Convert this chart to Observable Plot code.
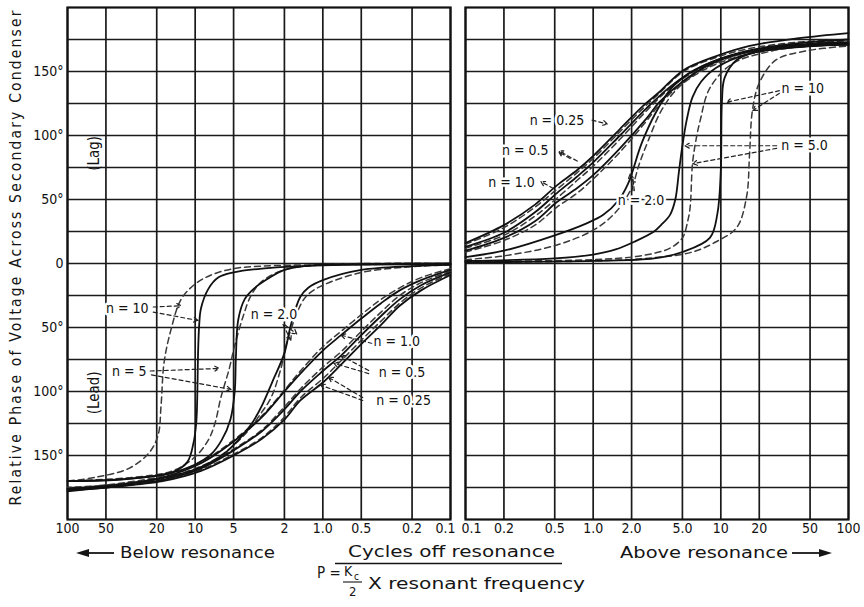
<!DOCTYPE html>
<html><head><meta charset="utf-8">
<script src="https://cdn.jsdelivr.net/npm/d3@7"></script>
<script src="https://cdn.jsdelivr.net/npm/@observablehq/plot@0.6"></script>
<style>
body{margin:0;background:#fff}
#wrap{position:relative;width:864px;height:607px;overflow:hidden;background:#fff}
#left,#right,#cap{position:absolute;top:0}
#left{left:0}#right{left:460px}#cap{left:0;pointer-events:none}
</style></head>
<body><div id="wrap"><div id="left"></div><div id="right"></div>
<svg id="cap" width="864" height="607" font-family="'DejaVu Sans Condensed','DejaVu Sans',sans-serif" fill="#151515">
<text transform="translate(21,258) rotate(-90)" text-anchor="middle" font-size="15.5" textLength="495" lengthAdjust="spacing">Relative Phase of Voltage Across Secondary Condenser</text>
<line x1="84" x2="114" y1="553" y2="553" stroke="#151515" stroke-width="1.8"/>
<polygon points="76,553 89,549 89,557"/>
<text x="120" y="558" font-size="15" textLength="155" lengthAdjust="spacingAndGlyphs">Below resonance</text>
<text x="348" y="557" font-size="15" textLength="207" lengthAdjust="spacingAndGlyphs">Cycles off resonance</text>
<line x1="335" x2="562" y1="563.5" y2="563.5" stroke="#151515" stroke-width="1.3"/>
<text x="317" y="578" font-size="15">P =</text>
<text x="344" y="576" font-size="14">K</text><text x="354" y="580" font-size="10">c</text>
<line x1="343" x2="362" y1="582" y2="582" stroke="#151515" stroke-width="1.1"/>
<text x="349" y="596" font-size="13">2</text>
<text x="368" y="589" font-size="15" textLength="217" lengthAdjust="spacingAndGlyphs">X resonant frequency</text>
<text x="620" y="558" font-size="15" textLength="168" lengthAdjust="spacingAndGlyphs">Above resonance</text>
<line x1="792" x2="822" y1="553" y2="553" stroke="#151515" stroke-width="1.8"/>
<polygon points="832,553 819,549 819,557"/>
</svg>
</div>
<script>
// ---- axis values ----
const pTicksBelow = [100, 50, 20, 10, 5, 2, 1, 0.5, 0.2, 0.1];
const pLabelsBelow = ["100", "50", "20", "10", "5", "2", "1.0", "0.5", "0.2", "0.1"];
const pTicksAbove = [0.1, 0.2, 0.5, 1, 2, 5, 10, 20, 50, 100];
const pLabelsAbove = ["0.1", "0.2", "0.5", "1.0", "2.0", "5.0", "10", "20", "50", "100"];
const phaseTicks = [150, 100, 50, 0, -50, -100, -150];
const phaseLabels = ["150°", "100°", "50°", "0", "50°", "100°", "150°"];
const phaseGrid = [-175, -150, -125, -100, -75, -50, -25, 0, 25, 50, 75, 100, 125, 150, 175];

// ---- below resonance (p, phase in degrees; lead negative) ----
const belowN025Solid = [[0.1,-9],[0.17,-21],[0.25,-33],[0.35,-48],[0.5,-63],[0.72,-79],[1,-93],[1.5,-107],[2,-122],[3,-137],[5,-150],[9,-162],[18,-170],[50,-175],[100,-178]];
const belowN025Dashed = [[0.1,-8],[0.17,-19],[0.25,-31],[0.35,-45],[0.5,-60],[0.72,-76],[1,-90],[1.5,-105],[2,-120],[3,-136],[5,-149],[9,-161],[18,-169],[50,-175],[100,-177]];
const belowN05Solid = [[0.1,-7],[0.17,-17],[0.25,-28],[0.35,-41],[0.5,-56],[0.72,-72],[1,-84],[1.5,-100],[2,-114],[3,-131],[5,-146],[9,-160],[18,-169],[50,-175],[100,-177]];
const belowN05Dashed = [[0.1,-6],[0.17,-15],[0.25,-25],[0.35,-38],[0.5,-53],[0.72,-69],[1,-81],[1.5,-98],[2,-112],[3,-130],[5,-145],[9,-159],[18,-168],[50,-174],[100,-177]];
const belowN1Solid = [[0.1,-5],[0.17,-13],[0.25,-21],[0.35,-31],[0.5,-43],[0.72,-56],[1,-68],[1.5,-86],[2,-100],[3,-120],[5,-139],[9,-156],[18,-167],[50,-174],[100,-176]];
const belowN1Dashed = [[0.1,-4],[0.17,-11],[0.25,-19],[0.35,-28],[0.5,-40],[0.72,-53],[1,-65],[1.5,-84],[2,-99],[3,-119],[5,-138],[9,-155],[18,-166],[50,-173],[100,-176]];
const belowN2Solid = [[0.1,-1],[0.2,-2],[0.5,-5],[1,-13],[1.3,-19],[1.5,-26],[1.78,-48],[2,-70],[2.5,-93],[3,-111],[3.6,-125],[4.5,-137],[6,-149],[9,-159],[15,-166],[40,-173],[100,-176]];
const belowN2Dashed = [[0.1,-1],[0.2,-2.5],[0.5,-7],[1,-17],[1.3,-24],[1.47,-31],[1.88,-59],[2.13,-82],[2.55,-105],[3.05,-117],[3.8,-130],[5,-142],[7,-153],[12,-163],[30,-171],[100,-175]];
const belowN5Solid = [[0.1,0],[0.5,-0.5],[1.24,-1.5],[2,-5],[2.7,-12],[3.5,-20],[4.1,-28],[4.6,-44],[4.8,-74],[4.9,-100],[5.3,-122],[6.2,-138],[7.5,-149],[10,-157],[16,-164],[40,-169],[100,-170]];
const belowN5Dashed = [[0.1,0],[1,-1],[2,-5],[3,-14],[3.65,-25],[4.2,-41],[4.9,-64],[5.4,-82],[6.3,-105],[7,-125],[7.9,-138],[10,-151],[15,-162],[30,-167],[100,-170]];
const belowN10Solid = [[0.1,-0.5],[1,-1.5],[3,-4],[5,-7],[6.6,-11],[7.9,-20],[9,-35],[9.3,-48],[9.5,-72],[9.6,-98],[9.8,-124],[10.3,-140],[11.5,-155],[15,-163],[33,-168],[100,-170]];
const belowN10Dashed = [[0.1,-0.5],[1,-1],[3,-2],[5,-4],[7.5,-9],[10,-16],[12.9,-28],[15.4,-51],[17.5,-77],[18.5,-111],[19.5,-134],[23,-148],[33,-160],[60,-167],[100,-170]];

// ---- above resonance (lag positive) ----
const aboveN025Solid = [[0.1,16],[0.2,30],[0.35,46],[0.52,61],[0.75,73],[1,84],[1.62,105],[2.45,123],[3.3,134],[5.1,151],[9.2,162],[16.8,170],[41,176],[100,180]];
const aboveN025Dashed = [[0.1,15],[0.2,28],[0.35,44],[0.52,58],[0.75,71],[1,82],[1.62,103],[2.45,121],[3.3,133],[5.1,150],[9.2,161],[16.8,168],[41,173],[100,175]];
const aboveN05Solid = [[0.1,13],[0.2,24],[0.35,40],[0.52,55],[0.75,68],[1,79],[1.62,100],[2.6,121],[4,138],[6,150],[10,160],[20,168],[50,173],[100,175]];
const aboveN05Dashed = [[0.1,12],[0.2,22],[0.35,37],[0.52,51],[0.75,65],[1,76],[1.62,97],[2.6,119],[4,137],[6,149],[10,159],[20,167],[50,172],[100,174]];
const aboveN1Solid = [[0.1,10],[0.2,20],[0.35,33],[0.52,48],[0.75,59],[1,69],[1.62,90],[2.6,113],[3.3,126],[5,142],[8,155],[15,165],[40,171],[100,173]];
const aboveN1Dashed = [[0.1,9],[0.2,18],[0.35,30],[0.52,44],[0.75,55],[1,66],[1.62,87],[2.6,111],[3.3,124],[5,141],[8,154],[15,164],[40,170],[100,172]];
const aboveN2Solid = [[0.1,5],[0.2,10],[0.5,22],[0.87,31],[1.2,38],[1.57,49],[1.87,62],[2.4,94],[3.06,117],[4.1,137],[5.5,148],[10,160],[20,167],[50,171],[100,172]];
const aboveN2Dashed = [[0.1,3],[0.2,6],[0.5,14],[1,26],[1.5,40],[2,59],[2.3,78],[2.7,96],[3.4,119],[4.6,137],[7,150],[12,160],[30,168],[100,172]];
const aboveN5Solid = [[0.1,2],[0.5,4],[1,7],[1.5,11],[2.1,17],[3,25],[3.4,30],[4,38],[4.4,50],[4.7,72],[5,92],[5.4,112],[6,130],[7,142],[9.2,153],[16.8,164],[41,169],[100,171]];
const aboveN5Dashed = [[0.1,1.5],[1,3],[2,5],[3,8],[4,12],[5,20],[5.5,33],[5.75,44],[6,78],[6.4,97],[6.9,112],[8.2,137],[12.3,156],[25,166],[50,170],[100,171]];
const aboveN10Solid = [[0.1,1],[1,2],[3,4],[5,9],[8.2,20],[9.4,39],[10,73],[10.2,126],[10.7,145],[13.3,159],[20,166],[50,170],[100,171]];
const aboveN10Dashed = [[0.1,1],[1,2],[3,4.5],[6,9],[9.2,17],[13.3,28],[15.9,52],[16.8,86],[17.7,120],[20,141],[27,159],[46,166],[100,170]];

// ---- curve labels (p, phase) ----
const belowLabelText = ["n = 10", "n = 5", "n = 2.0", "n = 1.0", "n = 0.5", "n = 0.25"];
const belowLabelP = [34, 32.8, 2.41, 0.264, 0.24, 0.233];
const belowLabelPhase = [-35, -84, -40, -61, -85, -107];
const aboveLabelText = ["n = 0.25", "n = 0.5", "n = 1.0", "n = 2.0", "n = 10", "n = 5.0"];
const aboveLabelP = [0.52, 0.294, 0.229, 2.37, 43.8, 45.3];
const aboveLabelPhase = [112, 88, 63, 49, 137, 92];

// ---- pointer arrows (from p, phase -> to p, phase) ----
const belowArrows = [[21.3,-34,12.9,-33],[21.3,-38,9.5,-44.5],[22.5,-84,6.5,-82],[22,-87,5.24,-98.4],[2.05,-47.7,1.78,-60],[2.0,-47.7,1.6,-55],[0.41,-62.5,0.72,-56],[0.437,-83.6,0.72,-72],[0.437,-86,0.82,-78],[0.487,-104.7,0.9,-89],[0.487,-107,1.04,-95]];
const aboveArrows = [[0.98,112,1.29,109],[0.75,80,0.54,88],[0.66,82,0.54,87],[0.487,58.6,0.39,64],[2.05,57,1.95,70],[2.1,57,2.05,66],[28.8,135,11.1,126],[28.8,133,17.8,119.5],[27.4,92,5.24,92],[27.4,90,6.04,78]];

const FONT = "'DejaVu Sans Condensed','DejaVu Sans',sans-serif";
const rows = (list) => list.flatMap(([id, dashed, pts]) => pts.map(([p, phase]) => ({id, dashed, p, phase})));
const belowRows = rows([["0.25s",false,belowN025Solid],["0.25d",true,belowN025Dashed],["0.5s",false,belowN05Solid],["0.5d",true,belowN05Dashed],["1s",false,belowN1Solid],["1d",true,belowN1Dashed],["2s",false,belowN2Solid],["2d",true,belowN2Dashed],["5s",false,belowN5Solid],["5d",true,belowN5Dashed],["10s",false,belowN10Solid],["10d",true,belowN10Dashed]]);
const aboveRows = rows([["0.25s",false,aboveN025Solid],["0.25d",true,aboveN025Dashed],["0.5s",false,aboveN05Solid],["0.5d",true,aboveN05Dashed],["1s",false,aboveN1Solid],["1d",true,aboveN1Dashed],["2s",false,aboveN2Solid],["2d",true,aboveN2Dashed],["5s",false,aboveN5Solid],["5d",true,aboveN5Dashed],["10s",false,aboveN10Solid],["10d",true,aboveN10Dashed]]);
const lab = (t, p, ph) => t.map((text, i) => ({text, p: p[i], phase: ph[i]}));
const arr = (a) => a.map(([p1, d1, p2, d2]) => ({p1, d1, p2, d2}));
const tickRows = (ticks, labels) => ticks.map((p, i) => ({p, t: labels[i]}));

function curveMarks(data, labels, arrows) {
  return [
    Plot.line(data.filter(d => d.dashed), {x: "p", y: "phase", z: "id", stroke: "#3a3a3a", strokeWidth: 1.5, strokeDasharray: "6,4", curve: "catmull-rom"}),
    Plot.line(data.filter(d => !d.dashed), {x: "p", y: "phase", z: "id", stroke: "#111", strokeWidth: 1.8, curve: "catmull-rom"}),
    Plot.arrow(arr(arrows), {x1: "p1", y1: "d1", x2: "p2", y2: "d2", stroke: "#222", strokeWidth: 1.2, strokeDasharray: "4,3", headLength: 6}),
    Plot.text(labels, {x: "p", y: "phase", text: "text", fontSize: 14, fill: "#111", stroke: "white", strokeWidth: 5, paintOrder: "stroke"})
  ];
}

function tickLabelMarks(ticks, labels, endDx) {
  const t = tickRows(ticks, labels);
  return [
    Plot.text(t.filter(d => d.p !== 0.1), {x: "p", text: "t", frameAnchor: "bottom", dy: 13, fontSize: 14, fill: "#111"}),
    Plot.text(t.filter(d => d.p === 0.1), {x: "p", text: "t", frameAnchor: "bottom", dy: 13, dx: endDx, fontSize: 14, fill: "#111"})
  ];
}

const left = Plot.plot({
  width: 460, height: 545, marginLeft: 67, marginRight: 10, marginTop: 7, marginBottom: 26,
  style: {fontFamily: FONT, fontSize: "13px", background: "white", color: "#111", overflow: "visible"},
  x: {type: "log", domain: [0.1, 100], reverse: true, axis: null},
  y: {domain: [-200, 200]},
  marks: [
    Plot.ruleY(phaseGrid, {stroke: "#1a1a1a", strokeWidth: 1.7}),
    Plot.ruleX(pTicksBelow, {stroke: "#1a1a1a", strokeWidth: 1.7}),
    Plot.frame({stroke: "#111", strokeWidth: 2.2}),
    ...tickLabelMarks(pTicksBelow, pLabelsBelow, -5),
    Plot.axisY(phaseTicks, {tickSize: 0, tickPadding: 4, fontSize: 14, label: null, tickFormat: d => phaseLabels[phaseTicks.indexOf(d)]}),
    Plot.text([{t: "(Lag)", p: 61.5, phase: 86}, {t: "(Lead)", p: 61.5, phase: -101}], {x: "p", y: "phase", text: "t", rotate: -90, fontSize: 15, fill: "#111"}),
    ...curveMarks(belowRows, lab(belowLabelText, belowLabelP, belowLabelPhase), belowArrows)
  ]
});

const right = Plot.plot({
  width: 404, height: 545, marginLeft: 5, marginRight: 16, marginTop: 7, marginBottom: 26,
  style: {fontFamily: FONT, fontSize: "13px", background: "white", color: "#111", overflow: "visible"},
  x: {type: "log", domain: [0.1, 100], axis: null},
  y: {domain: [-200, 200], axis: null},
  marks: [
    Plot.ruleY(phaseGrid, {stroke: "#1a1a1a", strokeWidth: 1.7}),
    Plot.ruleX(pTicksAbove, {stroke: "#1a1a1a", strokeWidth: 1.7}),
    Plot.frame({stroke: "#111", strokeWidth: 2.2}),
    ...tickLabelMarks(pTicksAbove, pLabelsAbove, 6),
    ...curveMarks(aboveRows, lab(aboveLabelText, aboveLabelP, aboveLabelPhase), aboveArrows)
  ]
});

document.getElementById("left").appendChild(left);
document.getElementById("right").appendChild(right);
</script>
</body></html>
